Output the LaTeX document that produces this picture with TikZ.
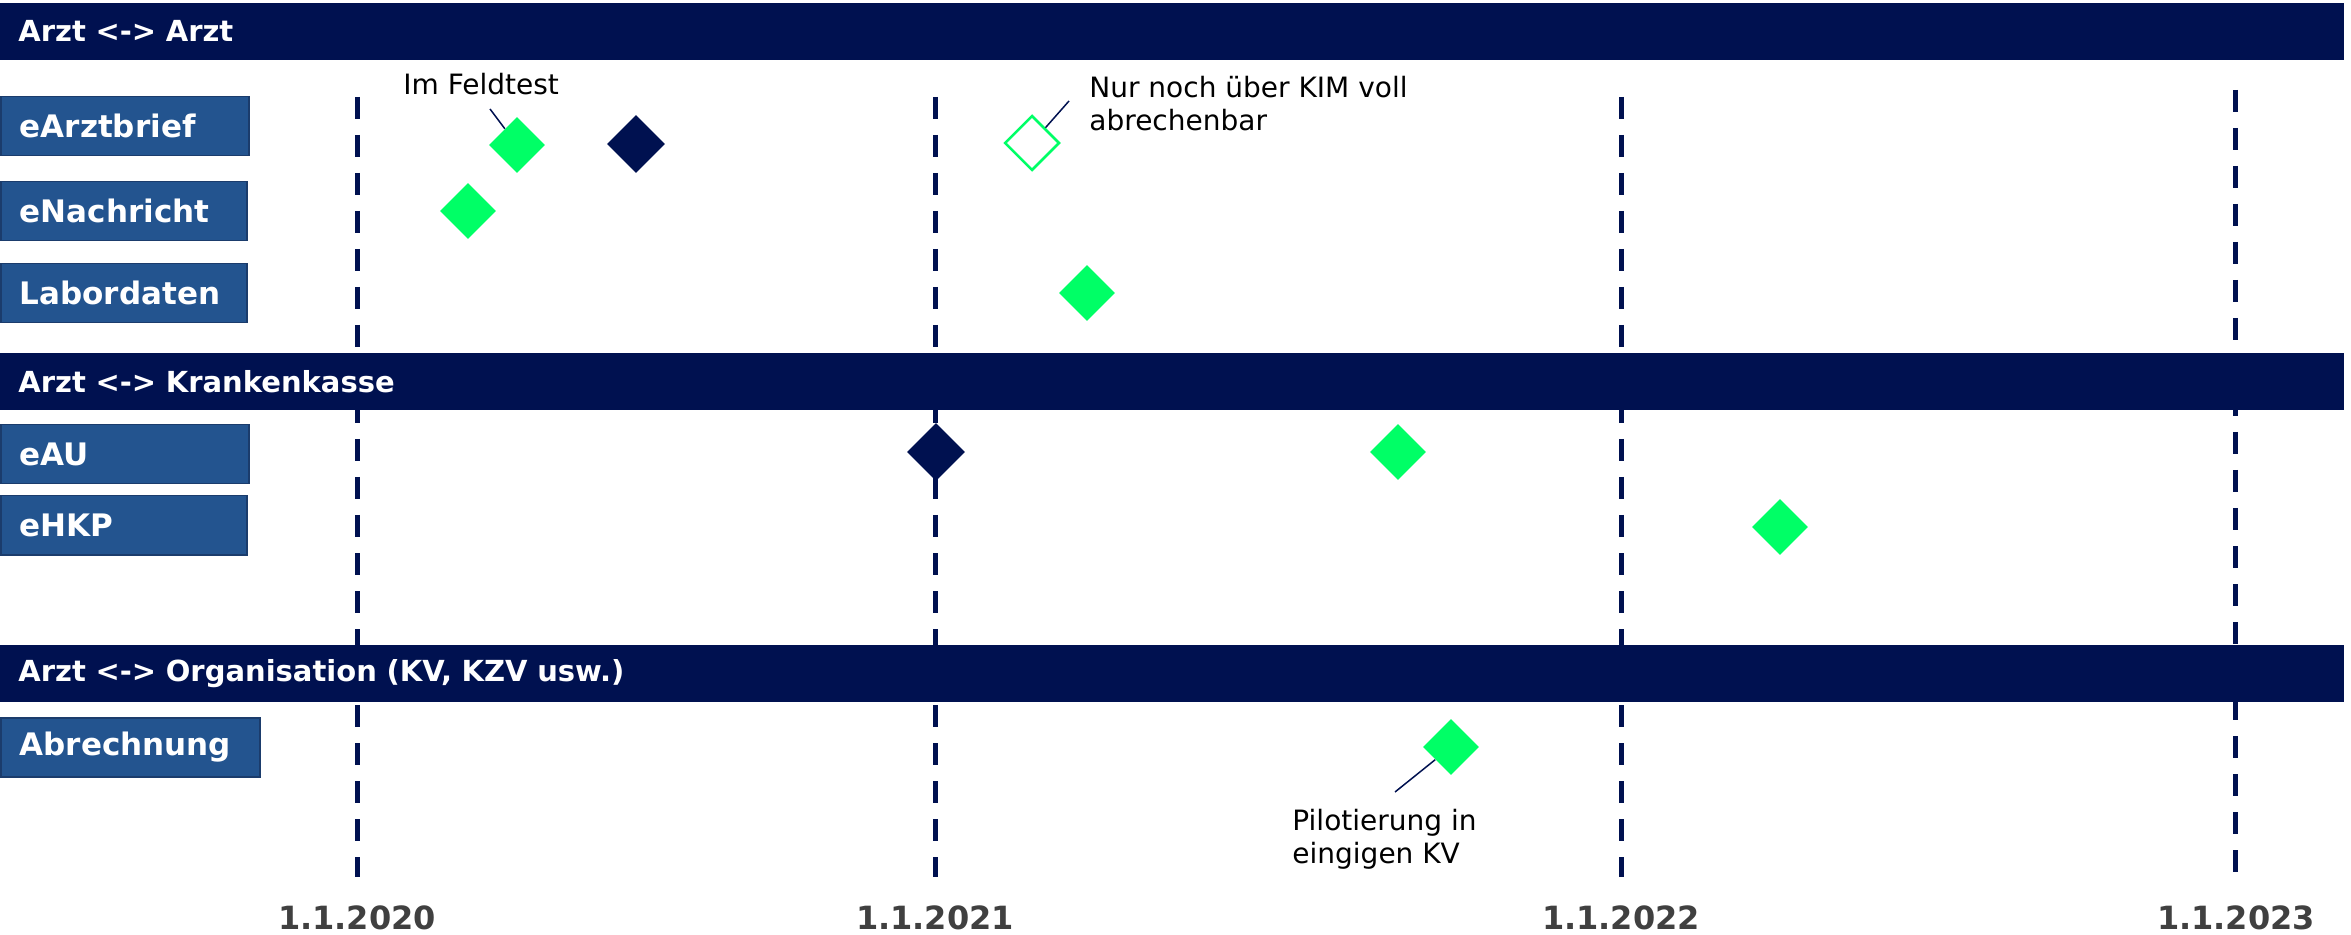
\documentclass[tikz,border=0pt]{standalone}
\usepackage{fontspec}
\setmainfont{DejaVu Sans}
\usetikzlibrary{shapes.geometric}
\definecolor{navy}{RGB}{0,17,80}
\definecolor{boxblue}{RGB}{35,84,143}
\definecolor{boxedge}{RGB}{27,60,108}
\definecolor{kimgreen}{RGB}{0,255,102}
\definecolor{dategray}{RGB}{64,64,64}
\tikzset{
  jahrlinie/.style={navy, line width=2.5pt, dash pattern=on 11pt off 8pt},
  datum/.style={text=dategray, font=\fontsize{16}{19}\selectfont\bfseries, inner sep=0pt},
  balken/.style={fill=navy, draw=navy, anchor=north west, minimum height=28pt,
    inner xsep=9pt, align=left, text=white, font=\fontsize{14.5}{17}\selectfont\bfseries},
  dienst/.style={fill=boxblue, draw=boxedge, line width=0.75pt, anchor=north west,
    minimum height=29.5pt, inner xsep=9.5pt, align=left, text=white,
    font=\fontsize{15.5}{18}\selectfont\bfseries},
  ms/.style={diamond, inner sep=0pt, minimum size=28pt},
  msgreen/.style={ms, fill=kimgreen},
  msdark/.style={ms, fill=navy, minimum size=29pt},
  msopen/.style={ms, draw=kimgreen, fill=white, line width=1.25pt, minimum size=27.5pt},
  hinweis/.style={inner sep=0pt, align=left, font=\fontsize{14}{16.5}\selectfont},
  leader/.style={navy, line width=0.75pt}
}
\begin{document}
\begin{tikzpicture}[x=0.5pt,y=-0.5pt]
  \useasboundingbox (0,0) rectangle (2351,935);

  % Stichtage
  \coordinate (T20) at (357,97);   \coordinate (B20) at (357,877);
  \coordinate (T21) at (935,97);   \coordinate (B21) at (935,877);
  \coordinate (T22) at (1621,97);  \coordinate (B22) at (1621,877);
  \coordinate (T23) at (2235,90);  \coordinate (B23) at (2235,874);
  \foreach \j in {20,21,22,23}
    \draw[jahrlinie] (T\j) -- (B\j);

  \node[datum] (d20) at (357,918) {1.1.2020};
  \node[datum] (d21) at (935,918) {1.1.2021};
  \node[datum] (d22) at (1621,918) {1.1.2022};
  \node[datum] (d23) at (2236,918) {1.1.2023};

  % Bereiche
  \node[balken, text width=1153.5pt] (aa) at (0,3) {Arzt <-> Arzt};
  \node[balken, text width=1153.5pt] (ak) at (0,353) {Arzt <-> Krankenkasse};
  \node[balken, text width=1153.5pt] (ao) at (0,645) {Arzt <-> Organisation (KV, KZV usw.)};

  \node[dienst, text width=105pt] (brief) at (0,96) {eArztbrief};
  \node[dienst, text width=104pt] (nachricht) at (0,181) {eNachricht};
  \node[dienst, text width=104pt] (labor) at (0,263) {Labordaten};
  \node[dienst, text width=105pt] (eau) at (0,424) {eAU};
  \node[dienst, text width=104pt] (ehkp) at (0,495) {eHKP};
  \node[dienst, text width=110.5pt] (abr) at (0,717) {Abrechnung};

  % Meilensteine
  \node[msgreen] (brief1) at (517,145) {};
  \node[msdark] (brief2) at (636,144) {};
  \node[msopen] (brief3) at (1032,143) {};
  \node[msgreen] (nachricht1) at (468,211) {};
  \node[msgreen] (labor1) at (1087,293) {};
  \node[msdark] (eau1) at (936,452) {};
  \node[msgreen] (eau2) at (1398,452) {};
  \node[msgreen] (ehkp1) at (1780,527) {};
  \node[msgreen] (abr1) at (1451,747) {};

  % Hinweise
  \node[hinweis, anchor=base west] (feldtest) at (403,95) {Im Feldtest};
  \node[hinweis, anchor=north west] (kim) at (1089,76) {Nur noch über KIM voll\\abrechenbar};
  \node[hinweis, anchor=north west] (pilot) at (1292,809) {Pilotierung in\\eingigen KV};
  \coordinate (feldtestpt) at (490,109);
  \coordinate (kimpt) at (1069,101);
  \coordinate (pilotpt) at (1395,792);
  \draw[leader] (feldtestpt) -- (brief1);
  \draw[leader] (kimpt) -- (brief3);
  \draw[leader] (pilotpt) -- (abr1);
\end{tikzpicture}
\end{document}
